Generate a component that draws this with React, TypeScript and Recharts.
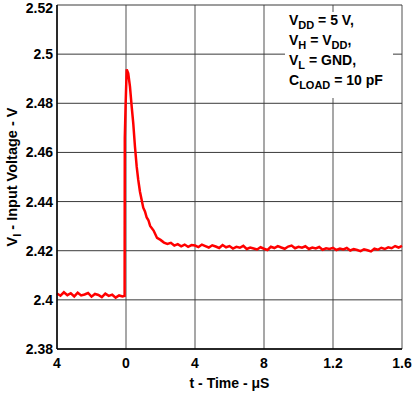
import { LineChart, Line, XAxis, YAxis, CartesianGrid } from 'recharts'

// time in µs (axis labels below are printed as in the original datasheet)
const TIME_US = [
  -0.4, -0.38, -0.36, -0.34, -0.32, -0.3, -0.28, -0.26, -0.24, -0.22,
  -0.2, -0.18, -0.16, -0.14, -0.12, -0.1, -0.08, -0.06, -0.04, -0.02,
  -0.01, -0.008, -0.007, -0.002, 0.004, 0.013, 0.023, 0.033, 0.042, 0.052,
  0.062, 0.071, 0.081, 0.09, 0.1, 0.11, 0.12, 0.13, 0.14, 0.16,
  0.18, 0.2, 0.22, 0.24, 0.26, 0.28, 0.3, 0.32, 0.34, 0.36,
  0.38, 0.4, 0.42, 0.44, 0.46, 0.48, 0.5, 0.52, 0.54, 0.56,
  0.58, 0.6, 0.62, 0.64, 0.66, 0.68, 0.7, 0.72, 0.74, 0.76,
  0.78, 0.8, 0.82, 0.84, 0.86, 0.88, 0.9, 0.92, 0.94, 0.96,
  0.98, 1.0, 1.02, 1.04, 1.06, 1.08, 1.1, 1.12, 1.14, 1.16,
  1.18, 1.2, 1.22, 1.24, 1.26, 1.28, 1.3, 1.32, 1.34, 1.36,
  1.38, 1.4, 1.42, 1.44, 1.46, 1.48, 1.5, 1.52, 1.54, 1.56,
  1.58, 1.6,
]

// input voltage in V
const VOLTAGE_V = [
  2.4026, 2.4017, 2.4031, 2.4019, 2.4027, 2.4014, 2.4029, 2.4018, 2.4022, 2.4028,
  2.4013, 2.4024, 2.402, 2.4011, 2.4025, 2.4016, 2.4021, 2.4009, 2.4018, 2.4014,
  2.4016, 2.4012, 2.466, 2.48, 2.4938, 2.4922, 2.4868, 2.4786, 2.4719, 2.4623,
  2.4542, 2.4488, 2.444, 2.4409, 2.4375, 2.436, 2.4335, 2.4324, 2.4301, 2.4282,
  2.4252, 2.4244, 2.4233, 2.4228, 2.4232, 2.4221, 2.4227, 2.4218, 2.4225, 2.4216,
  2.4223, 2.4221, 2.4215, 2.4225, 2.4219, 2.4213, 2.4222, 2.4217, 2.4211, 2.4223,
  2.4214, 2.4219, 2.4209, 2.4216, 2.4212, 2.422, 2.4207, 2.4213, 2.4209, 2.4205,
  2.4214, 2.4208, 2.4203, 2.4216, 2.4211, 2.4219, 2.4213, 2.4208, 2.4217, 2.4221,
  2.421, 2.4216, 2.4212, 2.4218, 2.4207, 2.4213, 2.4209, 2.4215, 2.4204, 2.421,
  2.4207, 2.4212, 2.4203, 2.4209, 2.4205, 2.4211, 2.4201, 2.4207, 2.4203, 2.4198,
  2.4206, 2.4202, 2.4197, 2.4208, 2.4204, 2.4212, 2.4207, 2.4214, 2.421, 2.4219,
  2.4213, 2.422,
]

const X_TICKS = [-0.4, 0, 0.4, 0.8, 1.2, 1.6]
const X_TICK_LABELS = ['4', '0', '4', '8', '1.2', '1.6']
const Y_TICKS = [2.38, 2.4, 2.42, 2.44, 2.46, 2.48, 2.5, 2.52]
const Y_TICK_LABELS = ['2.38', '2.4', '2.42', '2.44', '2.46', '2.48', '2.5', '2.52']

const FONT = '"Liberation Sans", Arial, sans-serif'

const chartData = TIME_US.map((t, i) => ({ t, v: VOLTAGE_V[i] }))

const XTick = ({ x, y, payload }: any) => (
  <text
    x={x}
    y={y + 9}
    textAnchor="middle"
    fontFamily={FONT}
    fontSize={14}
    fontWeight={700}
    fill="#000"
  >
    {X_TICK_LABELS[X_TICKS.indexOf(payload.value)] ?? ''}
  </text>
)

const YTick = ({ x, y, payload }: any) => (
  <text
    x={x}
    y={Math.max(y + 5, 13)}
    textAnchor="end"
    fontFamily={FONT}
    fontSize={14}
    fontWeight={700}
    fill="#000"
  >
    {Y_TICK_LABELS[Y_TICKS.indexOf(payload.value)] ?? ''}
  </text>
)

const YLabel = ({ viewBox }: any) => {
  const cy = viewBox.y + viewBox.height / 2
  const x = 17
  return (
    <text
      x={x}
      y={cy}
      transform={`rotate(-90 ${x} ${cy})`}
      textAnchor="middle"
      fontFamily={FONT}
      fontSize={14.5}
      fontWeight={700}
      fill="#000"
    >
      V<tspan fontSize={11} dy={4}>I</tspan>
      <tspan dy={-4}> - Input Voltage - V</tspan>
    </text>
  )
}

const XLabel = ({ viewBox }: any) => (
  <text
    x={viewBox.x + viewBox.width / 2}
    y={viewBox.y + 39}
    textAnchor="middle"
    fontFamily={FONT}
    fontSize={14}
    fontWeight={700}
    fill="#000"
  >
    t - Time - μS
  </text>
)

const NOTE_LINES: [string, string, string][] = [
  ['V', 'DD', ' = 5 V,'],
  ['V', 'H', ' = V'],
  ['V', 'L', ' = GND,'],
  ['C', 'LOAD', ' = 10 pF'],
]

function Note() {
  return (
    <svg
      width={108}
      height={86}
      style={{ position: 'absolute', left: 285, top: 12, background: '#fff' }}
    >
      {NOTE_LINES.map(([a, sub, rest], i) => (
        <text
          key={i}
          x={4}
          y={13 + i * 20}
          fontFamily={FONT}
          fontSize={14}
          fontWeight={700}
          fill="#000"
        >
          {a}
          <tspan fontSize={11} dy={4}>{sub}</tspan>
          <tspan dy={-4}>{rest}</tspan>
          {i === 1 && (
            <>
              <tspan fontSize={11} dy={4}>DD</tspan>
              <tspan dy={-4}>,</tspan>
            </>
          )}
        </text>
      ))}
    </svg>
  )
}

export default function App() {
  return (
    <div style={{ position: 'absolute', left: 0, top: 0, width: 420, height: 394, background: '#fff' }}>
      <LineChart
        width={420}
        height={394}
        data={chartData}
        margin={{ top: 5, right: 18, left: 0, bottom: 0 }}
      >
        <CartesianGrid horizontal={false} vertical stroke="#8a8a8a" strokeWidth={1.5} />
        <CartesianGrid horizontal vertical={false} stroke="#3a3a3a" strokeWidth={1} />
        <XAxis
          dataKey="t"
          type="number"
          domain={[-0.4, 1.6]}
          ticks={X_TICKS}
          height={45}
          tickSize={0}
          tickMargin={10}
          tickLine={false}
          axisLine={{ stroke: '#000', strokeWidth: 1.5 }}
          tick={<XTick />}
          interval={0}
          label={<XLabel />}
        />
        <XAxis
          xAxisId="top"
          orientation="top"
          dataKey="t"
          type="number"
          domain={[-0.4, 1.6]}
          height={0}
          tick={false}
          tickLine={false}
          axisLine={{ stroke: '#000', strokeWidth: 1.5 }}
        />
        <YAxis
          type="number"
          domain={[2.38, 2.52]}
          ticks={Y_TICKS}
          width={57}
          tickSize={0}
          tickMargin={4}
          tickLine={false}
          axisLine={{ stroke: '#000', strokeWidth: 1.5 }}
          tick={<YTick />}
          interval={0}
          label={<YLabel />}
        />
        <YAxis
          yAxisId="right"
          orientation="right"
          type="number"
          domain={[2.38, 2.52]}
          width={0}
          tick={false}
          tickLine={false}
          axisLine={{ stroke: '#000', strokeWidth: 1.5 }}
        />
        <Line
          type="linear"
          dataKey="v"
          stroke="#ff0000"
          strokeWidth={2.5}
          dot={false}
          isAnimationActive={false}
        />
      </LineChart>
      <Note />
    </div>
  )
}
